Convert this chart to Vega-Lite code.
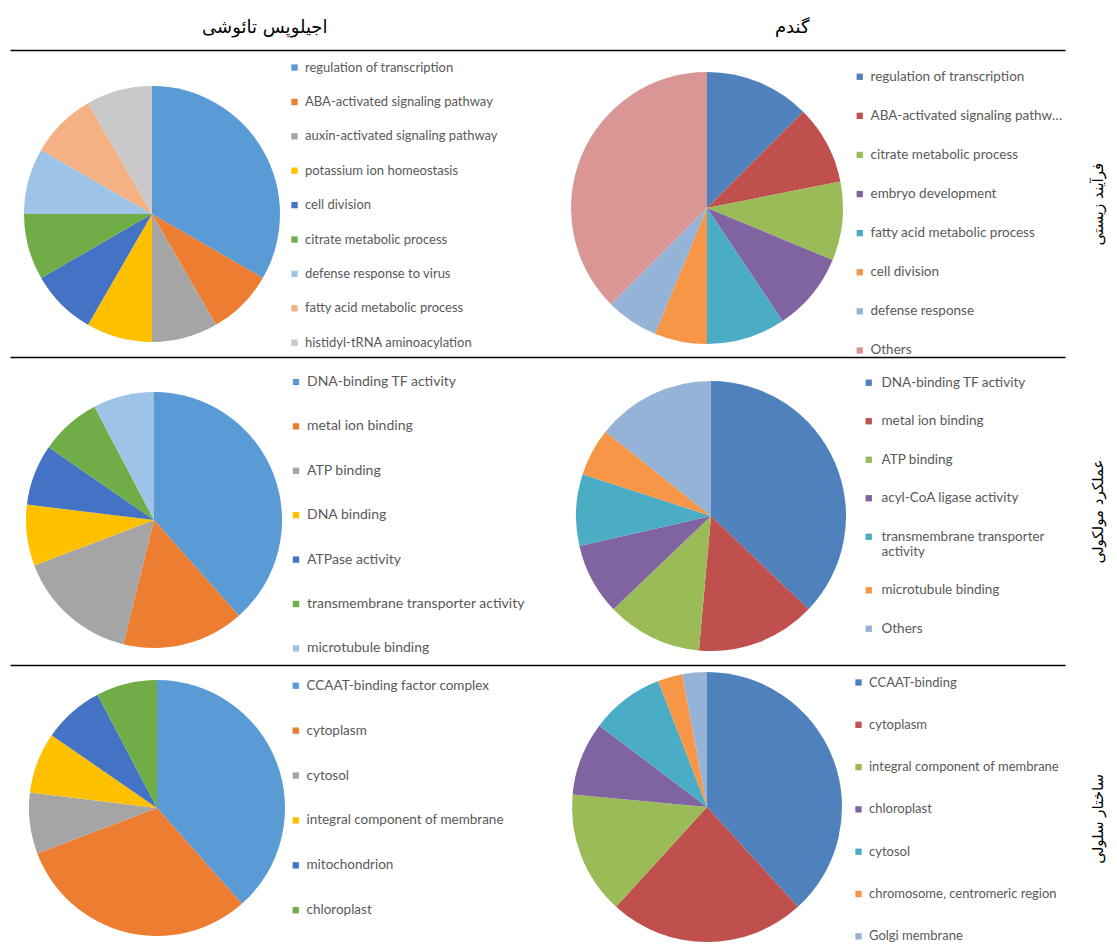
{
  "$schema": "https://vega.github.io/schema/vega-lite/v6.json",
  "autosize": {"type": "none"},
  "width": 1055,
  "height": 894,
  "padding": {"left": 10, "top": 50, "right": 52, "bottom": 0},
  "background": "white",
  "config": {
    "view": {"stroke": null},
    "legend": {"orient": "none", "title": null, "symbolType": "square", "symbolStrokeWidth": 0, "symbolSize": 40, "labelFont": "Lato", "labelColor": "#595959", "padding": 0, "labelOffset": 4, "labelLimit": 300}
  },
  "data": {
    "values": [
      {"species": "اجیلوپس تائوشی", "ontology": "فرآیند زیستی", "term": "regulation of transcription", "count": 4, "rank": 1},
      {"species": "اجیلوپس تائوشی", "ontology": "فرآیند زیستی", "term": "ABA-activated signaling pathway", "count": 1, "rank": 2},
      {"species": "اجیلوپس تائوشی", "ontology": "فرآیند زیستی", "term": "auxin-activated signaling pathway", "count": 1, "rank": 3},
      {"species": "اجیلوپس تائوشی", "ontology": "فرآیند زیستی", "term": "potassium ion homeostasis", "count": 1, "rank": 4},
      {"species": "اجیلوپس تائوشی", "ontology": "فرآیند زیستی", "term": "cell division", "count": 1, "rank": 5},
      {"species": "اجیلوپس تائوشی", "ontology": "فرآیند زیستی", "term": "citrate metabolic process", "count": 1, "rank": 6},
      {"species": "اجیلوپس تائوشی", "ontology": "فرآیند زیستی", "term": "defense response to virus", "count": 1, "rank": 7},
      {"species": "اجیلوپس تائوشی", "ontology": "فرآیند زیستی", "term": "fatty acid metabolic process", "count": 1, "rank": 8},
      {"species": "اجیلوپس تائوشی", "ontology": "فرآیند زیستی", "term": "histidyl-tRNA aminoacylation", "count": 1, "rank": 9},
      {"species": "گندم", "ontology": "فرآیند زیستی", "term": "regulation of transcription", "count": 4, "rank": 1},
      {"species": "گندم", "ontology": "فرآیند زیستی", "term": "ABA-activated signaling pathway", "count": 3, "rank": 2},
      {"species": "گندم", "ontology": "فرآیند زیستی", "term": "citrate metabolic process", "count": 3, "rank": 3},
      {"species": "گندم", "ontology": "فرآیند زیستی", "term": "embryo development", "count": 3, "rank": 4},
      {"species": "گندم", "ontology": "فرآیند زیستی", "term": "fatty acid metabolic process", "count": 3, "rank": 5},
      {"species": "گندم", "ontology": "فرآیند زیستی", "term": "cell division", "count": 2, "rank": 6},
      {"species": "گندم", "ontology": "فرآیند زیستی", "term": "defense response", "count": 2, "rank": 7},
      {"species": "گندم", "ontology": "فرآیند زیستی", "term": "Others", "count": 12, "rank": 8},
      {"species": "اجیلوپس تائوشی", "ontology": "عملکرد مولکولی", "term": "DNA-binding TF activity", "count": 5, "rank": 1},
      {"species": "اجیلوپس تائوشی", "ontology": "عملکرد مولکولی", "term": "metal ion binding", "count": 2, "rank": 2},
      {"species": "اجیلوپس تائوشی", "ontology": "عملکرد مولکولی", "term": "ATP binding", "count": 2, "rank": 3},
      {"species": "اجیلوپس تائوشی", "ontology": "عملکرد مولکولی", "term": "DNA binding", "count": 1, "rank": 4},
      {"species": "اجیلوپس تائوشی", "ontology": "عملکرد مولکولی", "term": "ATPase activity", "count": 1, "rank": 5},
      {"species": "اجیلوپس تائوشی", "ontology": "عملکرد مولکولی", "term": "transmembrane transporter activity", "count": 1, "rank": 6},
      {"species": "اجیلوپس تائوشی", "ontology": "عملکرد مولکولی", "term": "microtubule binding", "count": 1, "rank": 7},
      {"species": "گندم", "ontology": "عملکرد مولکولی", "term": "DNA-binding TF activity", "count": 13, "rank": 1},
      {"species": "گندم", "ontology": "عملکرد مولکولی", "term": "metal ion binding", "count": 5, "rank": 2},
      {"species": "گندم", "ontology": "عملکرد مولکولی", "term": "ATP binding", "count": 4, "rank": 3},
      {"species": "گندم", "ontology": "عملکرد مولکولی", "term": "acyl-CoA ligase activity", "count": 3, "rank": 4},
      {"species": "گندم", "ontology": "عملکرد مولکولی", "term": "transmembrane transporter activity", "count": 3, "rank": 5},
      {"species": "گندم", "ontology": "عملکرد مولکولی", "term": "microtubule binding", "count": 2, "rank": 6},
      {"species": "گندم", "ontology": "عملکرد مولکولی", "term": "Others", "count": 5, "rank": 7},
      {"species": "اجیلوپس تائوشی", "ontology": "ساختار سلولی", "term": "CCAAT-binding factor complex", "count": 5, "rank": 1},
      {"species": "اجیلوپس تائوشی", "ontology": "ساختار سلولی", "term": "cytoplasm", "count": 4, "rank": 2},
      {"species": "اجیلوپس تائوشی", "ontology": "ساختار سلولی", "term": "cytosol", "count": 1, "rank": 3},
      {"species": "اجیلوپس تائوشی", "ontology": "ساختار سلولی", "term": "integral component of membrane", "count": 1, "rank": 4},
      {"species": "اجیلوپس تائوشی", "ontology": "ساختار سلولی", "term": "mitochondrion", "count": 1, "rank": 5},
      {"species": "اجیلوپس تائوشی", "ontology": "ساختار سلولی", "term": "chloroplast", "count": 1, "rank": 6},
      {"species": "گندم", "ontology": "ساختار سلولی", "term": "CCAAT-binding", "count": 13, "rank": 1},
      {"species": "گندم", "ontology": "ساختار سلولی", "term": "cytoplasm", "count": 8, "rank": 2},
      {"species": "گندم", "ontology": "ساختار سلولی", "term": "integral component of membrane", "count": 5, "rank": 3},
      {"species": "گندم", "ontology": "ساختار سلولی", "term": "chloroplast", "count": 3, "rank": 4},
      {"species": "گندم", "ontology": "ساختار سلولی", "term": "cytosol", "count": 3, "rank": 5},
      {"species": "گندم", "ontology": "ساختار سلولی", "term": "chromosome, centromeric region", "count": 1, "rank": 6},
      {"species": "گندم", "ontology": "ساختار سلولی", "term": "Golgi membrane", "count": 1, "rank": 7}
    ]
  },
  "layer": [
    {
      "transform": [{"aggregate": [{"op": "count", "as": "n"}], "groupby": ["species", "ontology"]}],
      "mark": {"type": "rect", "opacity": 0},
      "encoding": {
        "x": {"field": "species", "type": "nominal", "scale": {"type": "band", "domain": ["اجیلوپس تائوشی", "گندم"], "range": [0, 1055], "paddingInner": 0, "paddingOuter": 0},
          "axis": {"orient": "top", "title": null, "domain": false, "ticks": false, "tickSize": 0, "grid": false, "labelPadding": 23, "labelOffset": -9, "labelBaseline": "middle", "labelFont": "DejaVu Sans", "labelFontSize": 18, "labelColor": "black", "labelAngle": 0, "labelLimit": 400}},
        "y": {"field": "ontology", "type": "nominal", "scale": {"type": "band", "domain": ["فرآیند زیستی", "عملکرد مولکولی", "ساختار سلولی"], "range": [0, 922], "paddingInner": 0, "paddingOuter": 0},
          "axis": {"orient": "right", "title": null, "domain": false, "ticks": false, "tickSize": 0, "grid": true, "tickBand": "extent", "gridColor": "black", "gridWidth": 1.5, "gridOpacity": 1, "labelAngle": 270, "labelAlign": "center", "labelBaseline": "middle", "labelPadding": 32, "labelFont": "DejaVu Sans", "labelFontSize": 15, "labelColor": "black", "labelLimit": 400}}
      }
    },
    {
      "transform": [{"filter": {"field": "species", "equal": "اجیلوپس تائوشی"}}, {"filter": {"field": "ontology", "equal": "فرآیند زیستی"}}],
      "mark": {"type": "arc", "radius": 128},
      "encoding": {
        "x": {"field": "species", "type": "nominal", "scale": {"type": "point", "padding": 0, "domain": ["اجیلوپس تائوشی", "گندم"], "range": [142, 697]}, "axis": null},
        "y": {"field": "ontology", "type": "nominal", "scale": {"type": "point", "padding": 0, "domain": ["فرآیند زیستی", "عملکرد مولکولی", "ساختار سلولی"], "range": [164, 760]}, "axis": null},
        "theta": {"field": "count", "type": "quantitative", "stack": true},
        "order": {"field": "rank", "type": "quantitative"},
        "color": {"field": "term", "type": "nominal",
          "scale": {"domain": ["regulation of transcription", "ABA-activated signaling pathway", "auxin-activated signaling pathway", "potassium ion homeostasis", "cell division", "citrate metabolic process", "defense response to virus", "fatty acid metabolic process", "histidyl-tRNA aminoacylation"],
            "range": ["#5B9BD5", "#ED7D31", "#A5A5A5", "#FFC000", "#4472C4", "#70AD47", "#9DC3E6", "#F4B183", "#C9C9C9"]},
          "legend": {"legendX": 278, "legendY": 11, "labelFontSize": 13, "rowPadding": 20.4}}
      }
    },
    {
      "transform": [{"filter": {"field": "species", "equal": "گندم"}}, {"filter": {"field": "ontology", "equal": "فرآیند زیستی"}}],
      "mark": {"type": "arc", "radius": 136},
      "encoding": {
        "x": {"field": "species", "type": "nominal", "scale": {"type": "point", "padding": 0, "domain": ["اجیلوپس تائوشی", "گندم"], "range": [142, 697]}, "axis": null},
        "y": {"field": "ontology", "type": "nominal", "scale": {"type": "point", "padding": 0, "domain": ["فرآیند زیستی", "عملکرد مولکولی", "ساختار سلولی"], "range": [158, 754]}, "axis": null},
        "theta": {"field": "count", "type": "quantitative", "stack": true},
        "order": {"field": "rank", "type": "quantitative"},
        "color": {"field": "term", "type": "nominal",
          "scale": {"domain": ["regulation of transcription", "ABA-activated signaling pathway", "citrate metabolic process", "embryo development", "fatty acid metabolic process", "cell division", "defense response", "Others"],
            "range": ["#4F81BD", "#C0504D", "#9BBB59", "#8064A2", "#4BACC6", "#F79646", "#95B3D7", "#D99694"]},
          "legend": {"legendX": 843, "legendY": 20, "labelFontSize": 13.5, "rowPadding": 24.1, "labelLimit": 195}}
      }
    },
    {
      "transform": [{"filter": {"field": "species", "equal": "اجیلوپس تائوشی"}}, {"filter": {"field": "ontology", "equal": "عملکرد مولکولی"}}],
      "mark": {"type": "arc", "radius": 128},
      "encoding": {
        "x": {"field": "species", "type": "nominal", "scale": {"type": "point", "padding": 0, "domain": ["اجیلوپس تائوشی", "گندم"], "range": [144, 701]}, "axis": null},
        "y": {"field": "ontology", "type": "nominal", "scale": {"type": "point", "padding": 0, "domain": ["فرآیند زیستی", "عملکرد مولکولی", "ساختار سلولی"], "range": [172, 768]}, "axis": null},
        "theta": {"field": "count", "type": "quantitative", "stack": true},
        "order": {"field": "rank", "type": "quantitative"},
        "color": {"field": "term", "type": "nominal",
          "scale": {"domain": ["DNA-binding TF activity", "metal ion binding", "ATP binding", "DNA binding", "ATPase activity", "transmembrane transporter activity", "microtubule binding"],
            "range": ["#5B9BD5", "#ED7D31", "#A5A5A5", "#FFC000", "#4472C4", "#70AD47", "#9DC3E6"]},
          "legend": {"legendX": 279, "legendY": 325, "labelFontSize": 14, "rowPadding": 30.4}}
      }
    },
    {
      "transform": [{"filter": {"field": "species", "equal": "گندم"}}, {"filter": {"field": "ontology", "equal": "عملکرد مولکولی"}}],
      "mark": {"type": "arc", "radius": 135},
      "encoding": {
        "x": {"field": "species", "type": "nominal", "scale": {"type": "point", "padding": 0, "domain": ["اجیلوپس تائوشی", "گندم"], "range": [144, 701]}, "axis": null},
        "y": {"field": "ontology", "type": "nominal", "scale": {"type": "point", "padding": 0, "domain": ["فرآیند زیستی", "عملکرد مولکولی", "ساختار سلولی"], "range": [168, 764]}, "axis": null},
        "theta": {"field": "count", "type": "quantitative", "stack": true},
        "order": {"field": "rank", "type": "quantitative"},
        "color": {"field": "term", "type": "nominal",
          "scale": {"domain": ["DNA-binding TF activity", "metal ion binding", "ATP binding", "acyl-CoA ligase activity", "transmembrane transporter activity", "microtubule binding", "Others"],
            "range": ["#4F81BD", "#C0504D", "#9BBB59", "#8064A2", "#4BACC6", "#F79646", "#95B3D7"]},
          "legend": {"legendX": 852, "legendY": 326, "labelFontSize": 13.5, "rowPadding": 23.5, "labelOffset": 6,
            "labelExpr": "datum.label == 'transmembrane transporter activity' ? ['transmembrane transporter', 'activity'] : datum.label"}}
      }
    },
    {
      "transform": [{"filter": {"field": "species", "equal": "اجیلوپس تائوشی"}}, {"filter": {"field": "ontology", "equal": "ساختار سلولی"}}],
      "mark": {"type": "arc", "radius": 128},
      "encoding": {
        "x": {"field": "species", "type": "nominal", "scale": {"type": "point", "padding": 0, "domain": ["اجیلوپس تائوشی", "گندم"], "range": [147, 697]}, "axis": null},
        "y": {"field": "ontology", "type": "nominal", "scale": {"type": "point", "padding": 0, "domain": ["فرآیند زیستی", "عملکرد مولکولی", "ساختار سلولی"], "range": [162, 758]}, "axis": null},
        "theta": {"field": "count", "type": "quantitative", "stack": true},
        "order": {"field": "rank", "type": "quantitative"},
        "color": {"field": "term", "type": "nominal",
          "scale": {"domain": ["CCAAT-binding factor complex", "cytoplasm", "cytosol", "integral component of membrane", "mitochondrion", "chloroplast"],
            "range": ["#5B9BD5", "#ED7D31", "#A5A5A5", "#FFC000", "#4472C4", "#70AD47"]},
          "legend": {"legendX": 279, "legendY": 629, "labelFontSize": 13.5, "rowPadding": 29.9}}
      }
    },
    {
      "transform": [{"filter": {"field": "species", "equal": "گندم"}}, {"filter": {"field": "ontology", "equal": "ساختار سلولی"}}],
      "mark": {"type": "arc", "radius": 135},
      "encoding": {
        "x": {"field": "species", "type": "nominal", "scale": {"type": "point", "padding": 0, "domain": ["اجیلوپس تائوشی", "گندم"], "range": [147, 697]}, "axis": null},
        "y": {"field": "ontology", "type": "nominal", "scale": {"type": "point", "padding": 0, "domain": ["فرآیند زیستی", "عملکرد مولکولی", "ساختار سلولی"], "range": [161, 757]}, "axis": null},
        "theta": {"field": "count", "type": "quantitative", "stack": true},
        "order": {"field": "rank", "type": "quantitative"},
        "color": {"field": "term", "type": "nominal",
          "scale": {"domain": ["CCAAT-binding", "cytoplasm", "integral component of membrane", "chloroplast", "cytosol", "chromosome, centromeric region", "Golgi membrane"],
            "range": ["#4F81BD", "#C0504D", "#9BBB59", "#8064A2", "#4BACC6", "#F79646", "#95B3D7"]},
          "legend": {"legendX": 842, "legendY": 626, "labelFontSize": 13, "rowPadding": 28.3, "labelLimit": 195}}
      }
    }
  ],
  "resolve": {
    "scale": {"x": "independent", "y": "independent", "theta": "independent", "color": "independent"},
    "legend": {"color": "independent"}
  }
}
